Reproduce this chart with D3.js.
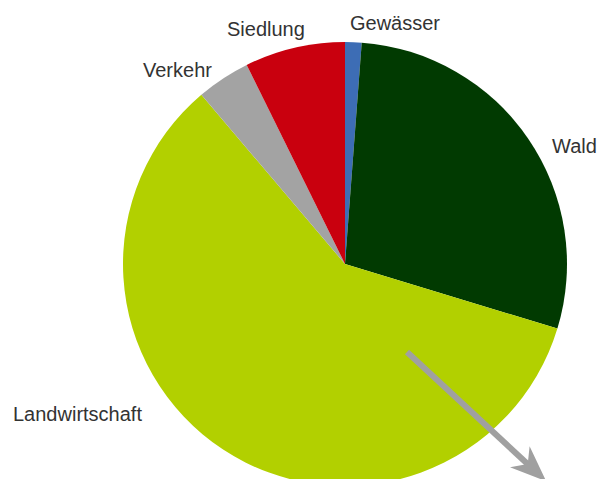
<!DOCTYPE html>
<html>
<head>
<meta charset="utf-8">
<script src="https://cdn.jsdelivr.net/npm/d3@7"></script>
<style>
  body { margin: 0; background: #fff; }
  text { font-family: "Liberation Sans", Arial, sans-serif; }
</style>
</head>
<body>
<div id="chart"></div>
<script>
// data
var categories = ["Gewässer", "Wald", "Landwirtschaft", "Verkehr", "Siedlung"];
var shares = [1.2, 28.5, 59.1, 3.9, 7.3];
var colors = ["#3d6db5", "#013a01", "#b2d000", "#a3a3a3", "#c9000e"];

// label placement (hand placed, like the original)
var labelPos = {
  "Gewässer": [350, 30, "start"],
  "Wald": [552, 153, "start"],
  "Landwirtschaft": [13, 421, "start"],
  "Verkehr": [143, 77, "start"],
  "Siedlung": [227, 36, "start"]
};

var svgWidth = 597;
var svgHeight = 479;
var cx = 345, cy = 264, radius = 222;

var svg = d3.select("#chart")
  .append("svg")
  .attr("width", svgWidth)
  .attr("height", svgHeight);

var pieData = categories.map(function(c, i) {
  return { name: c, value: shares[i], color: colors[i] };
});

var pie = d3.pie()
  .sort(null)
  .value(d => d.value);

var arc = d3.arc()
  .innerRadius(0)
  .outerRadius(radius);

var pieGroup = svg.append("g")
  .attr("transform", `translate(${cx}, ${cy})`);

pieGroup.selectAll("path")
  .data(pie(pieData))
  .enter()
  .append("path")
  .attr("d", arc)
  .attr("fill", d => d.data.color);

// labels
svg.append("g").selectAll("text")
  .data(pieData)
  .enter()
  .append("text")
  .attr("x", d => labelPos[d.name][0])
  .attr("y", d => labelPos[d.name][1])
  .attr("text-anchor", d => labelPos[d.name][2])
  .attr("font-size", "20px")
  .attr("fill", "#333")
  .text(d => d.name);

// arrow
var defs = svg.append("defs");
defs.append("marker")
  .attr("id", "head")
  .attr("viewBox", "0 0 20 20")
  .attr("refX", 10)
  .attr("refY", 10)
  .attr("markerWidth", 6)
  .attr("markerHeight", 6)
  .attr("markerUnits", "strokeWidth")
  .attr("orient", "auto")
  .append("path")
  .attr("d", "M0,2 L20,10 L0,18 L6,10 Z")
  .attr("fill", "#a0a0a0");

svg.append("line")
  .attr("x1", 407)
  .attr("y1", 352)
  .attr("x2", 533)
  .attr("y2", 469)
  .attr("stroke", "#a0a0a0")
  .attr("stroke-width", 6)
  .attr("marker-end", "url(#head)");
</script>
</body>
</html>
